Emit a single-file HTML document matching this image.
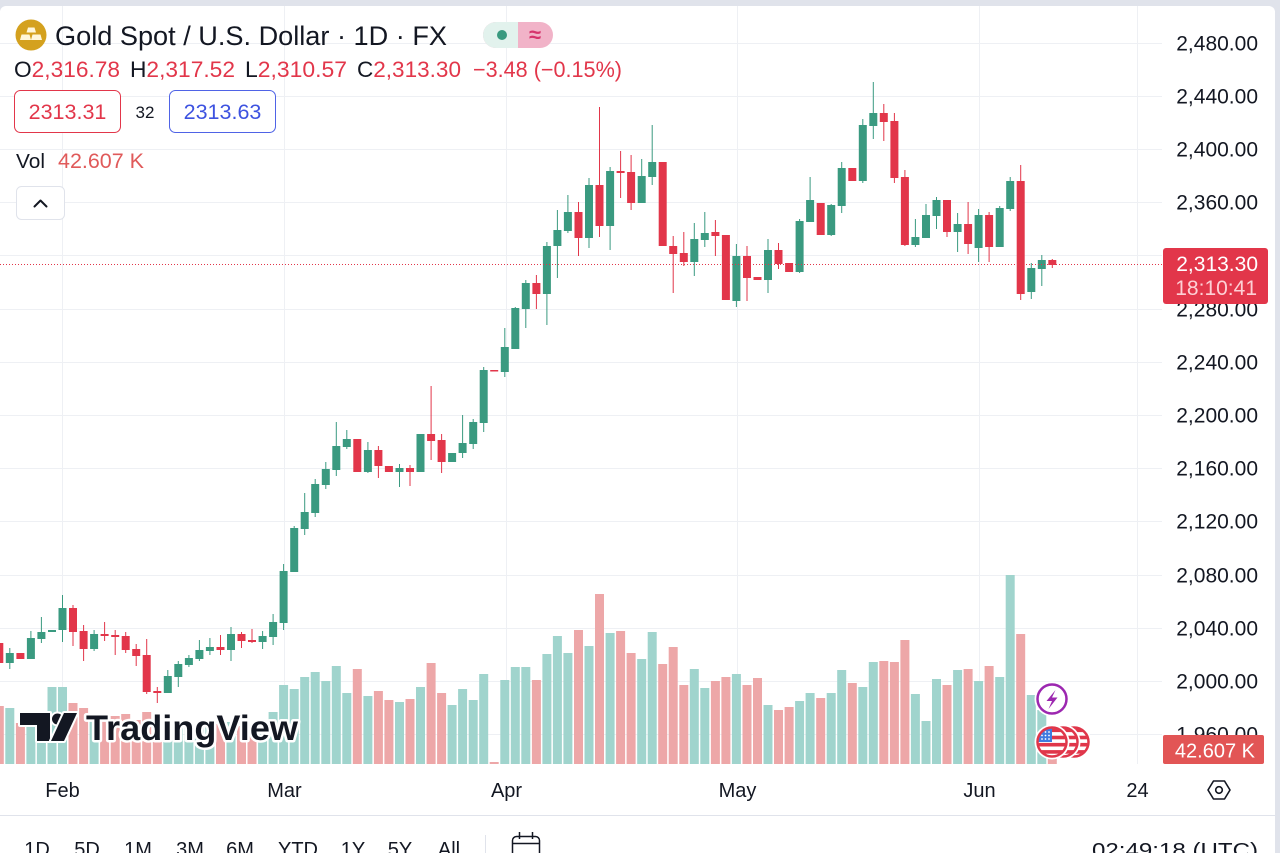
<!DOCTYPE html>
<html>
<head>
<meta charset="utf-8">
<style>
html,body{margin:0;padding:0;background:#e0e3eb;}
body{width:1280px;height:853px;overflow:hidden;}
svg{display:block;}
</style>
</head>
<body>
<svg width="1280" height="853" viewBox="0 0 1280 853" xmlns="http://www.w3.org/2000/svg" font-family="'Liberation Sans', Arial, sans-serif">
<defs>
  <clipPath id="pane"><rect x="0" y="6" width="1162" height="758"/></clipPath>
  <clipPath id="fc"><circle cx="0" cy="0" r="13.5"/></clipPath>
  <g id="flag">
    <circle r="17.5" fill="#fff"/>
    <g clip-path="url(#fc)">
      <rect x="-14" y="-14" width="28" height="28" fill="#fff"/>
      <rect x="-14" y="-13.5" width="28" height="3.6" fill="#e0364a"/>
      <rect x="-14" y="-6.3" width="28" height="3.6" fill="#e0364a"/>
      <rect x="-14" y="0.9" width="28" height="3.6" fill="#e0364a"/>
      <rect x="-14" y="8.1" width="28" height="3.6" fill="#e0364a"/>
      <rect x="-14" y="-14" width="14" height="14" fill="#3f7be0"/>
      <g fill="#fff">
        <circle cx="-10" cy="-10" r="0.9"/><circle cx="-6.5" cy="-10" r="0.9"/><circle cx="-3" cy="-10" r="0.9"/>
        <circle cx="-10" cy="-6.5" r="0.9"/><circle cx="-6.5" cy="-6.5" r="0.9"/><circle cx="-3" cy="-6.5" r="0.9"/>
        <circle cx="-10" cy="-3" r="0.9"/><circle cx="-6.5" cy="-3" r="0.9"/><circle cx="-3" cy="-3" r="0.9"/>
      </g>
    </g>
    <circle r="14.5" fill="none" stroke="#e0364a" stroke-width="2.5"/>
  </g>
</defs>

<!-- frame -->
<rect width="1280" height="853" fill="#e0e3eb"/>
<path d="M0,12 A6,6 0 0 1 6,6 H1269 A6,6 0 0 1 1275,12 V853 H0 Z" fill="#ffffff"/>
<rect x="0" y="815" width="1275" height="1" fill="#e0e3eb"/>

<!-- grid -->
<g stroke="#eef0f4" stroke-width="1">
  <line x1="0" y1="43.5" x2="1162" y2="43.5"/>
  <line x1="0" y1="96.5" x2="1162" y2="96.5"/>
  <line x1="0" y1="149.5" x2="1162" y2="149.5"/>
  <line x1="0" y1="202.5" x2="1162" y2="202.5"/>
  <line x1="0" y1="255.5" x2="1162" y2="255.5"/>
  <line x1="0" y1="309.5" x2="1162" y2="309.5"/>
  <line x1="0" y1="362.5" x2="1162" y2="362.5"/>
  <line x1="0" y1="415.5" x2="1162" y2="415.5"/>
  <line x1="0" y1="468.5" x2="1162" y2="468.5"/>
  <line x1="0" y1="521.5" x2="1162" y2="521.5"/>
  <line x1="0" y1="575.5" x2="1162" y2="575.5"/>
  <line x1="0" y1="628.5" x2="1162" y2="628.5"/>
  <line x1="0" y1="681.5" x2="1162" y2="681.5"/>
  <line x1="0" y1="734.5" x2="1162" y2="734.5"/>
  <line x1="62.5" y1="6" x2="62.5" y2="764"/>
  <line x1="284.5" y1="6" x2="284.5" y2="764"/>
  <line x1="506.5" y1="6" x2="506.5" y2="764"/>
  <line x1="737.5" y1="6" x2="737.5" y2="764"/>
  <line x1="979.5" y1="6" x2="979.5" y2="764"/>
  <line x1="1137.5" y1="6" x2="1137.5" y2="764"/>
</g>

<g clip-path="url(#pane)">
<g transform="translate(0.5,0)">
<!-- volume teal -->
<path fill="#a0d4cd" d="M4.8,708h9V764h-9zM25.9,715h9V764h-9zM36.4,712h9V764h-9zM47,687h9V764h-9zM57.5,687h9V764h-9zM89.1,715h9V764h-9zM162.8,725h9V764h-9zM173.3,728h9V764h-9zM183.9,726h9V764h-9zM194.4,728h9V764h-9zM204.9,725h9V764h-9zM226,722h9V764h-9zM257.6,722h9V764h-9zM268.1,712h9V764h-9zM278.6,685h9V764h-9zM289.2,689h9V764h-9zM299.7,677h9V764h-9zM310.2,672h9V764h-9zM320.8,681h9V764h-9zM331.3,666h9V764h-9zM341.8,693h9V764h-9zM362.9,696h9V764h-9zM394.5,702h9V764h-9zM415.5,687h9V764h-9zM447.1,705h9V764h-9zM457.6,689h9V764h-9zM468.2,700h9V764h-9zM478.7,674h9V764h-9zM499.8,680h9V764h-9zM510.3,667h9V764h-9zM520.8,667h9V764h-9zM541.9,654h9V764h-9zM552.4,636h9V764h-9zM562.9,653h9V764h-9zM584,646h9V764h-9zM605.1,633h9V764h-9zM636.7,659h9V764h-9zM647.2,632h9V764h-9zM689.3,669h9V764h-9zM699.8,688h9V764h-9zM731.4,674h9V764h-9zM763,705h9V764h-9zM794.6,701h9V764h-9zM805.1,693h9V764h-9zM826.2,693h9V764h-9zM836.7,670h9V764h-9zM857.8,687h9V764h-9zM868.3,662h9V764h-9zM910.4,694h9V764h-9zM921,721h9V764h-9zM931.5,679h9V764h-9zM952.6,670h9V764h-9zM973.6,681h9V764h-9zM994.7,677h9V764h-9zM1005.2,575h9V764h-9zM1026.3,695h9V764h-9zM1036.8,710h9V764h-9z"/>
<!-- volume red -->
<path fill="#eda7a8" d="M-5.7,706h9V764h-9zM15.4,723h9V764h-9zM68,703h9V764h-9zM78.6,708h9V764h-9zM99.6,718h9V764h-9zM110.2,716h9V764h-9zM120.7,714h9V764h-9zM131.2,720h9V764h-9zM141.7,712h9V764h-9zM152.3,722h9V764h-9zM215.5,724h9V764h-9zM236.5,726h9V764h-9zM247,725h9V764h-9zM352.3,669h9V764h-9zM373.4,691h9V764h-9zM383.9,700h9V764h-9zM405,699h9V764h-9zM426.1,663h9V764h-9zM436.6,693h9V764h-9zM489.2,762h9V764h-9zM531.4,680h9V764h-9zM573.5,630h9V764h-9zM594.5,594h9V764h-9zM615.6,631h9V764h-9zM626.1,653h9V764h-9zM657.7,664h9V764h-9zM668.2,647h9V764h-9zM678.8,685h9V764h-9zM710.4,681h9V764h-9zM720.9,677h9V764h-9zM742,685h9V764h-9zM752.5,678h9V764h-9zM773.5,710h9V764h-9zM784.1,707h9V764h-9zM815.7,698h9V764h-9zM847.3,683h9V764h-9zM878.8,661h9V764h-9zM889.4,662h9V764h-9zM899.9,640h9V764h-9zM942,685h9V764h-9zM963.1,669h9V764h-9zM984.1,666h9V764h-9zM1015.7,634h9V764h-9zM1047.3,735h9V764h-9z"/>

<!-- candles green -->
<path fill="#3a9a80" d="M8.8,648h1v21h-1zM5.3,653h8v10h-8zM29.9,631h1v28h-1zM26.4,638h8v21h-8zM40.4,617h1v26h-1zM36.9,632h8v7h-8zM47.5,630h8v2h-8zM61.5,595h1v47h-1zM58,608h8v22h-8zM93.1,630h1v21h-1zM89.6,634h8v15h-8zM166.8,670h1v23h-1zM163.3,676h8v17h-8zM177.3,661h1v26h-1zM173.8,664h8v13h-8zM187.9,655h1v12h-1zM184.4,658h8v7h-8zM198.4,640h1v21h-1zM194.9,650h8v9h-8zM208.9,638h1v17h-1zM205.4,647h8v4h-8zM230,627h1v34h-1zM226.5,634h8v16h-8zM261.6,631h1v18h-1zM258.1,636h8v6h-8zM272.1,614h1v31h-1zM268.6,622h8v15h-8zM282.6,564h1v66h-1zM279.1,571h8v52h-8zM293.2,526h1v46h-1zM289.7,528h8v44h-8zM303.7,493h1v42h-1zM300.2,512h8v17h-8zM314.2,479h1v38h-1zM310.7,484h8v29h-8zM324.8,462h1v27h-1zM321.3,469h8v16h-8zM335.3,422h1v54h-1zM331.8,446h8v24h-8zM345.8,430h1v19h-1zM342.3,439h8v8h-8zM366.9,442h1v31h-1zM363.4,450h8v22h-8zM398.5,464h1v23h-1zM395,468h8v4h-8zM416,434h8v38h-8zM447.6,453h8v9h-8zM461.6,415h1v43h-1zM458.1,443h8v10h-8zM472.2,419h1v30h-1zM468.7,422h8v22h-8zM482.7,367h1v65h-1zM479.2,370h8v53h-8zM503.8,328h1v49h-1zM500.3,347h8v25h-8zM514.3,307h1v42h-1zM510.8,308h8v41h-8zM524.8,280h1v48h-1zM521.3,283h8v26h-8zM545.9,242h1v83h-1zM542.4,246h8v48h-8zM556.4,210h1v68h-1zM552.9,230h8v16h-8zM566.9,195h1v38h-1zM563.4,212h8v19h-8zM588,178h1v70h-1zM584.5,185h8v53h-8zM609.1,167h1v83h-1zM605.6,171h8v55h-8zM640.7,159h1v44h-1zM637.2,176h8v27h-8zM651.2,125h1v60h-1zM647.7,162h8v15h-8zM693.3,223h1v53h-1zM689.8,239h8v23h-8zM703.8,212h1v35h-1zM700.3,233h8v7h-8zM735.4,244h1v63h-1zM731.9,256h8v45h-8zM767,239h1v54h-1zM763.5,250h8v30h-8zM798.6,219h1v54h-1zM795.1,221h8v51h-8zM809.1,177h1v45h-1zM805.6,200h8v22h-8zM830.2,204h1v32h-1zM826.7,205h8v30h-8zM840.7,162h1v51h-1zM837.2,168h8v38h-8zM861.8,119h1v64h-1zM858.3,125h8v56h-8zM872.3,82h1v57h-1zM868.8,113h8v13h-8zM914.4,219h1v28h-1zM910.9,237h8v8h-8zM925,204h1v34h-1zM921.5,215h8v23h-8zM935.5,197h1v32h-1zM932,200h8v16h-8zM956.6,213h1v39h-1zM953.1,224h8v8h-8zM977.6,209h1v53h-1zM974.1,215h8v33h-8zM998.7,206h1v41h-1zM995.2,208h8v39h-8zM1009.2,177h1v34h-1zM1005.7,181h8v28h-8zM1030.3,263h1v36h-1zM1026.8,268h8v24h-8zM1040.8,255h1v31h-1zM1037.3,260h8v9h-8z"/>
<!-- candles red -->
<path fill="#e2364a" d="M-1.7,640h1v26h-1zM-5.2,643h8v20h-8zM15.9,653h8v6h-8zM72,605h1v41h-1zM68.5,608h8v24h-8zM82.6,625h1v36h-1zM79.1,631h8v18h-8zM103.6,622h1v19h-1zM100.1,634h8v2h-8zM114.2,630h1v25h-1zM110.7,635h8v2h-8zM124.7,632h1v21h-1zM121.2,636h8v14h-8zM135.2,644h1v22h-1zM131.7,649h8v7h-8zM145.7,639h1v55h-1zM142.2,655h8v37h-8zM156.3,687h1v16h-1zM152.8,691h8v2h-8zM219.5,635h1v20h-1zM216,647h8v3h-8zM240.5,632h1v16h-1zM237,634h8v7h-8zM251,629h1v14h-1zM247.5,640h8v2h-8zM352.8,439h8v33h-8zM377.4,446h1v32h-1zM373.9,450h8v16h-8zM384.4,466h8v6h-8zM409,465h1v21h-1zM405.5,468h8v4h-8zM430.1,386h1v74h-1zM426.6,434h8v7h-8zM440.6,434h1v39h-1zM437.1,440h8v22h-8zM489.7,370h8v1.5h-8zM535.4,275h1v34h-1zM531.9,283h8v11h-8zM577.5,202h1v54h-1zM574,212h8v26h-8zM598.5,107h1v130h-1zM595,185h8v41h-8zM619.6,151h1v47h-1zM616.1,171h8v2h-8zM630.1,155h1v55h-1zM626.6,172h8v31h-8zM658.2,162h8v84h-8zM672.2,236h1v57h-1zM668.7,246h8v8h-8zM682.8,232h1v34h-1zM679.3,253h8v9h-8zM714.4,220h1v36h-1zM710.9,232h8v4h-8zM721.4,235h8v65h-8zM746,246h1v55h-1zM742.5,256h8v22h-8zM753,277h8v3h-8zM777.5,243h1v26h-1zM774,250h8v14h-8zM784.6,263h8v9h-8zM816.2,203h8v32h-8zM847.8,168h8v13h-8zM882.8,104h1v37h-1zM879.3,113h8v9h-8zM893.4,113h1v70h-1zM889.9,121h8v57h-8zM903.9,170h1v76h-1zM900.4,177h8v68h-8zM946,200h1v37h-1zM942.5,200h8v32h-8zM967.1,202h1v52h-1zM963.6,224h8v20h-8zM988.1,212h1v50h-1zM984.6,215h8v32h-8zM1019.7,165h1v135h-1zM1016.2,181h8v113h-8zM1051.3,259h1v9h-1zM1047.8,260h8v5h-8z"/>
</g>
<!-- last price dotted line -->
<line x1="0" y1="264.5" x2="1162" y2="264.5" stroke="#e2364a" stroke-width="1" stroke-dasharray="1 2"/>
</g>

<!-- TradingView logo -->
<g>
  <g fill="#131722" stroke="#ffffff" stroke-width="4" paint-order="stroke" stroke-linejoin="round">
    <path d="M20,713 H50 V741 H37 V725 H20 Z"/>
    <circle cx="57.5" cy="719" r="5.5"/>
    <path d="M64,713 H77 L64,741 H51 Z"/>
  </g>
  <text x="86" y="740" font-size="35" font-weight="bold" fill="#131722" stroke="#ffffff" stroke-width="5" paint-order="stroke" stroke-linejoin="round" textLength="212" lengthAdjust="spacingAndGlyphs">TradingView</text>
</g>

<!-- event icons -->
<use href="#flag" x="1074" y="742"/>
<use href="#flag" x="1063" y="742"/>
<use href="#flag" x="1052" y="742"/>
<circle cx="1052" cy="699" r="17.5" fill="#fff"/>
<circle cx="1052" cy="699" r="14.5" fill="#fff" stroke="#9c27b0" stroke-width="2.5"/>
<path d="M1055.5,690 L1046.5,701 H1052 L1048.5,709 L1057.5,697.5 H1052 Z" fill="#9c27b0"/>

<!-- header -->
<circle cx="31" cy="35" r="15.5" fill="#d4a11e"/>
<g fill="#fff7da">
  <path d="M28,27.5 H34.5 L36,32.5 H26.5 Z"/>
  <path d="M21.5,34.5 H29.5 L31,40 H20 Z"/>
  <path d="M32.5,34.5 H40.5 L42,40 H31 Z"/>
</g>
<text x="55" y="45" font-size="27" fill="#131722" textLength="392" lengthAdjust="spacingAndGlyphs">Gold Spot / U.S. Dollar · 1D · FX</text>

<rect x="483" y="22" width="70" height="26" rx="13" fill="#f1b3c8"/>
<path d="M518,22 H496 A13,13 0 0 0 496,48 H518 Z" fill="#e2f2ed"/>
<circle cx="502" cy="35" r="5" fill="#3a9a80"/>
<text x="535" y="42" font-size="22" font-weight="bold" fill="#d6336c" text-anchor="middle">≈</text>

<text x="14" y="77" font-size="22" textLength="106" lengthAdjust="spacingAndGlyphs"><tspan fill="#131722">O</tspan><tspan fill="#e2364a">2,316.78</tspan></text>
<text x="130" y="77" font-size="22" textLength="105" lengthAdjust="spacingAndGlyphs"><tspan fill="#131722">H</tspan><tspan fill="#e2364a">2,317.52</tspan></text>
<text x="245" y="77" font-size="22" textLength="102" lengthAdjust="spacingAndGlyphs"><tspan fill="#131722">L</tspan><tspan fill="#e2364a">2,310.57</tspan></text>
<text x="357" y="77" font-size="22" textLength="104" lengthAdjust="spacingAndGlyphs"><tspan fill="#131722">C</tspan><tspan fill="#e2364a">2,313.30</tspan></text>
<text x="473" y="77" font-size="22" fill="#e2364a" textLength="149" lengthAdjust="spacingAndGlyphs">−3.48 (−0.15%)</text>

<rect x="14.5" y="90.5" width="106" height="42" rx="6" fill="#fff" stroke="#e2364a" stroke-width="1"/>
<text x="67.5" y="119" font-size="21.5" fill="#e2364a" text-anchor="middle">2313.31</text>
<text x="145" y="118" font-size="17" fill="#131722" text-anchor="middle">32</text>
<rect x="169.5" y="90.5" width="106" height="42" rx="6" fill="#fff" stroke="#4f63e6" stroke-width="1"/>
<text x="222.5" y="119" font-size="21.5" fill="#3d52e0" text-anchor="middle">2313.63</text>

<text x="16" y="168" font-size="20" fill="#131722" textLength="29" lengthAdjust="spacingAndGlyphs">Vol</text>
<text x="58" y="168" font-size="21" fill="#e05a5a" textLength="86" lengthAdjust="spacingAndGlyphs">42.607 K</text>

<rect x="16.5" y="186.5" width="48" height="33" rx="5" fill="#fff" stroke="#e0e3eb" stroke-width="1"/>
<polyline points="34.5,206.5 40.5,200.5 46.5,206.5" fill="none" stroke="#131722" stroke-width="2" stroke-linecap="round" stroke-linejoin="round"/>

<!-- price axis -->
<g font-size="21" fill="#131722" text-anchor="end">
  <text x="1258" y="50.5">2,480.00</text>
  <text x="1258" y="103.5">2,440.00</text>
  <text x="1258" y="156.5">2,400.00</text>
  <text x="1258" y="209.5">2,360.00</text>
  <text x="1258" y="262.5">2,320.00</text>
  <text x="1258" y="316.5">2,280.00</text>
  <text x="1258" y="369.5">2,240.00</text>
  <text x="1258" y="422.5">2,200.00</text>
  <text x="1258" y="475.5">2,160.00</text>
  <text x="1258" y="528.5">2,120.00</text>
  <text x="1258" y="582.5">2,080.00</text>
  <text x="1258" y="635.5">2,040.00</text>
  <text x="1258" y="688.5">2,000.00</text>
  <text x="1258" y="741.5">1,960.00</text>
</g>
<rect x="1163" y="248" width="105" height="56" rx="3" fill="#e2364a"/>
<text x="1258" y="271" font-size="21" fill="#ffffff" text-anchor="end">2,313.30</text>
<text x="1257" y="295" font-size="21" fill="#fdd0d5" text-anchor="end">18:10:41</text>
<rect x="1163" y="735" width="101" height="29" rx="2" fill="#e25555"/>
<text x="1255" y="757.5" font-size="20" fill="#ffffff" text-anchor="end">42.607 K</text>

<!-- time axis -->
<g font-size="20" fill="#131722" text-anchor="middle">
  <text x="62.5" y="797">Feb</text>
  <text x="284.5" y="797">Mar</text>
  <text x="506.5" y="797">Apr</text>
  <text x="737.5" y="797">May</text>
  <text x="979.5" y="797">Jun</text>
  <text x="1137.5" y="797">24</text>
</g>
<g fill="none" stroke="#131722" stroke-width="1.6" stroke-linejoin="round">
  <path d="M1208,790 L1213.5,781 H1224.5 L1230,790 L1224.5,799 H1213.5 Z"/>
  <circle cx="1219" cy="790" r="3.3"/>
</g>

<!-- bottom toolbar -->
<g font-size="20" fill="#131722" text-anchor="middle">
  <text x="37" y="856">1D</text>
  <text x="87" y="856">5D</text>
  <text x="138" y="856">1M</text>
  <text x="190" y="856">3M</text>
  <text x="240" y="856">6M</text>
  <text x="298" y="856">YTD</text>
  <text x="353" y="856">1Y</text>
  <text x="400" y="856">5Y</text>
  <text x="449" y="856">All</text>
</g>
<rect x="485" y="835" width="1" height="18" fill="#e0e3eb"/>
<g fill="none" stroke="#131722" stroke-width="1.5">
  <rect x="512.5" y="836.5" width="27" height="22" rx="4"/>
  <line x1="512.5" y1="843.5" x2="539.5" y2="843.5"/>
  <line x1="519.5" y1="832" x2="519.5" y2="839"/>
  <line x1="532.5" y1="832" x2="532.5" y2="839"/>
</g>
<text x="1258" y="857" font-size="20" fill="#131722" text-anchor="end" textLength="166" lengthAdjust="spacingAndGlyphs">02:49:18 (UTC)</text>
</svg>
</body>
</html>
